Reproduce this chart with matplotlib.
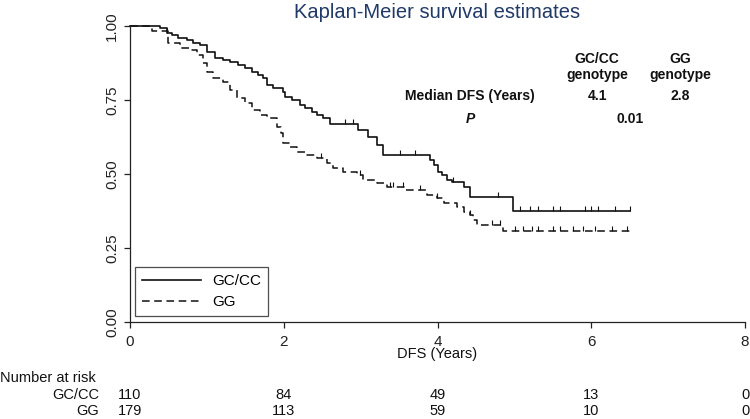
import matplotlib
matplotlib.use("Agg")
import matplotlib.pyplot as plt
import matplotlib.transforms as mtransforms

plt.rcParams['font.family'] = ['Liberation Sans', 'DejaVu Sans']

# ---------------- data ----------------
gccc_times = [0.0, 0.39, 0.48, 0.55, 0.62, 0.74, 0.82, 0.91, 1.00, 1.11, 1.21, 1.30, 1.40,
              1.50, 1.59, 1.66, 1.73, 1.78, 1.86, 1.99, 2.02, 2.11, 2.21, 2.28, 2.37,
              2.43, 2.51, 2.60, 2.96, 3.10, 3.21, 3.29, 3.90, 3.96, 4.00, 4.06, 4.13,
              4.19, 4.35, 4.42, 4.98, 6.50]
gccc_surv = [1.0, 0.993, 0.976, 0.970, 0.959, 0.953, 0.943, 0.936, 0.912, 0.892, 0.885,
             0.878, 0.868, 0.858, 0.845, 0.834, 0.824, 0.801, 0.791, 0.777, 0.760, 0.750,
             0.733, 0.723, 0.709, 0.699, 0.689, 0.669, 0.649, 0.625, 0.598, 0.564, 0.547,
             0.530, 0.507, 0.497, 0.480, 0.473, 0.456, 0.422, 0.376, 0.376]
gccc_cens_t = [0.48, 2.80, 2.90, 3.51, 3.71, 4.20, 4.79, 5.07, 5.20, 5.31, 5.50, 5.59,
               5.92, 6.00, 6.09, 6.31, 6.50]

gg_times = [0.0, 0.29, 0.49, 0.65, 0.78, 0.87, 0.95, 1.00, 1.08, 1.21, 1.30, 1.39, 1.50,
            1.59, 1.69, 1.78, 1.91, 1.97, 1.99, 2.08, 2.17, 2.30, 2.43, 2.56, 2.64,
            2.77, 2.95, 3.03, 3.21, 3.34, 3.57, 3.86, 3.99, 4.09, 4.25, 4.35, 4.42,
            4.46, 4.52, 4.85, 6.50]
gg_surv = [1.0, 0.983, 0.943, 0.926, 0.919, 0.902, 0.875, 0.845, 0.824, 0.811, 0.784,
           0.757, 0.740, 0.716, 0.699, 0.689, 0.659, 0.639, 0.605, 0.591, 0.574, 0.564,
           0.554, 0.537, 0.520, 0.507, 0.497, 0.480, 0.470, 0.456, 0.446, 0.430, 0.419,
           0.402, 0.389, 0.372, 0.361, 0.345, 0.327, 0.307, 0.307]
gg_cens_t = [2.49, 2.99, 3.38, 3.42, 3.55, 3.77, 3.99, 4.42, 4.71, 4.81, 5.01, 5.11,
             5.23, 5.31, 5.50, 5.59, 5.76, 5.89, 6.05, 6.27, 6.46]

risk_times = [0, 2, 4, 6, 8]
risk_gccc = [110, 84, 49, 13, 0]
risk_gg = [179, 113, 59, 10, 0]

x_ticks = [0, 2, 4, 6, 8]
y_ticks = [0.0, 0.25, 0.5, 0.75, 1.0]
y_ticklabels = ['0.00', '0.25', '0.50', '0.75', '1.00']

# ---------------- figure ----------------
W, H = 750, 419
fig = plt.figure(figsize=(W / 100, H / 100), dpi=100)
ax = fig.add_axes([130 / W, 97 / H, 615 / W, 296 / H])

def fx(px):
    return px / W

def fy(py):
    return 1 - py / H

line_col = '#111111'
ax.step(gccc_times, gccc_surv, where='post', color=line_col, lw=1.2, clip_on=False,
        label='GC/CC')
ax.step(gg_times, gg_surv, where='post', color=line_col, lw=1.1, clip_on=False,
        dashes=(5, 3), label='GG')


def surv_at(times, surv, t):
    s = surv[0]
    for ti, si in zip(times, surv):
        if ti <= t:
            s = si
    return s

for t in gccc_cens_t:
    s = surv_at(gccc_times, gccc_surv, t)
    ax.vlines(t, s, s + 0.017, color=line_col, lw=0.8)
for t in gg_cens_t:
    s = surv_at(gg_times, gg_surv, t)
    ax.vlines(t, s, s + 0.017, color=line_col, lw=0.8)

ax.set_xlim(0, 8)
ax.set_ylim(0, 1)
for sp in ['top', 'right']:
    ax.spines[sp].set_visible(False)
for sp in ['left', 'bottom']:
    ax.spines[sp].set_linewidth(0.9)
    ax.spines[sp].set_color('#222222')

ax.set_xticks(x_ticks)
ax.set_xticklabels([str(v) for v in x_ticks])
ax.set_yticks(y_ticks)
ax.set_yticklabels(y_ticklabels, rotation=90, va='center')
ax.tick_params(axis='both', direction='out', length=4, width=0.9, colors='#222222',
               labelsize=11, pad=5)
ax.tick_params(axis='y', pad=4)

ax.set_xlabel('DFS (Years)', fontsize=10.5, labelpad=-1, color='#111111')

fig.text(0.5 * (130 + 745) / W, fy(13), 'Kaplan-Meier survival estimates',
         ha='center', va='center', fontsize=14.5, color='#1f3a68')

# annotations
bold = dict(fontweight='bold', fontsize=10, color='#111111', ha='center', va='center')
fig.text(fx(597), fy(67), 'GC/CC\ngenotype', linespacing=1.1, **bold)
fig.text(fx(680), fy(67), 'GG\ngenotype', linespacing=1.1, **bold)
fig.text(fx(470), fy(96), 'Median DFS (Years)', **bold)
fig.text(fx(597), fy(96), '4.1', **bold)
fig.text(fx(680), fy(96), '2.8', **bold)
fig.text(fx(470), fy(119), 'P', fontstyle='italic', **bold)
fig.text(fx(630), fy(119), '0.01', **bold)

# legend
leg = ax.legend(loc='lower left', bbox_to_anchor=(fx(135), fy(316)),
                bbox_transform=fig.transFigure, frameon=True, fancybox=False,
                edgecolor='#222222', fontsize=11, handlelength=3.9,
                handletextpad=0.7, labelspacing=0.45, borderpad=0.45,
                borderaxespad=0)
leg.get_frame().set_linewidth(0.9)

# number at risk table
trans = mtransforms.blended_transform_factory(ax.transData, fig.transFigure)
fig.text(0.0, fy(378), 'Number at risk', ha='left', va='center', fontsize=10.5,
         color='#111111')
fig.text(fx(99), fy(395), 'GC/CC', ha='right', va='center', fontsize=10.5,
         color='#111111')
fig.text(fx(99), fy(411), 'GG', ha='right', va='center', fontsize=10.5,
         color='#111111')
for t, n in zip(risk_times, risk_gccc):
    ax.text(t, fy(395), str(n), transform=trans, ha='center', va='center',
            fontsize=10.5, color='#111111')
for t, n in zip(risk_times, risk_gg):
    ax.text(t, fy(411), str(n), transform=trans, ha='center', va='center',
            fontsize=10.5, color='#111111')

fig.savefig('out.png', dpi=100)
